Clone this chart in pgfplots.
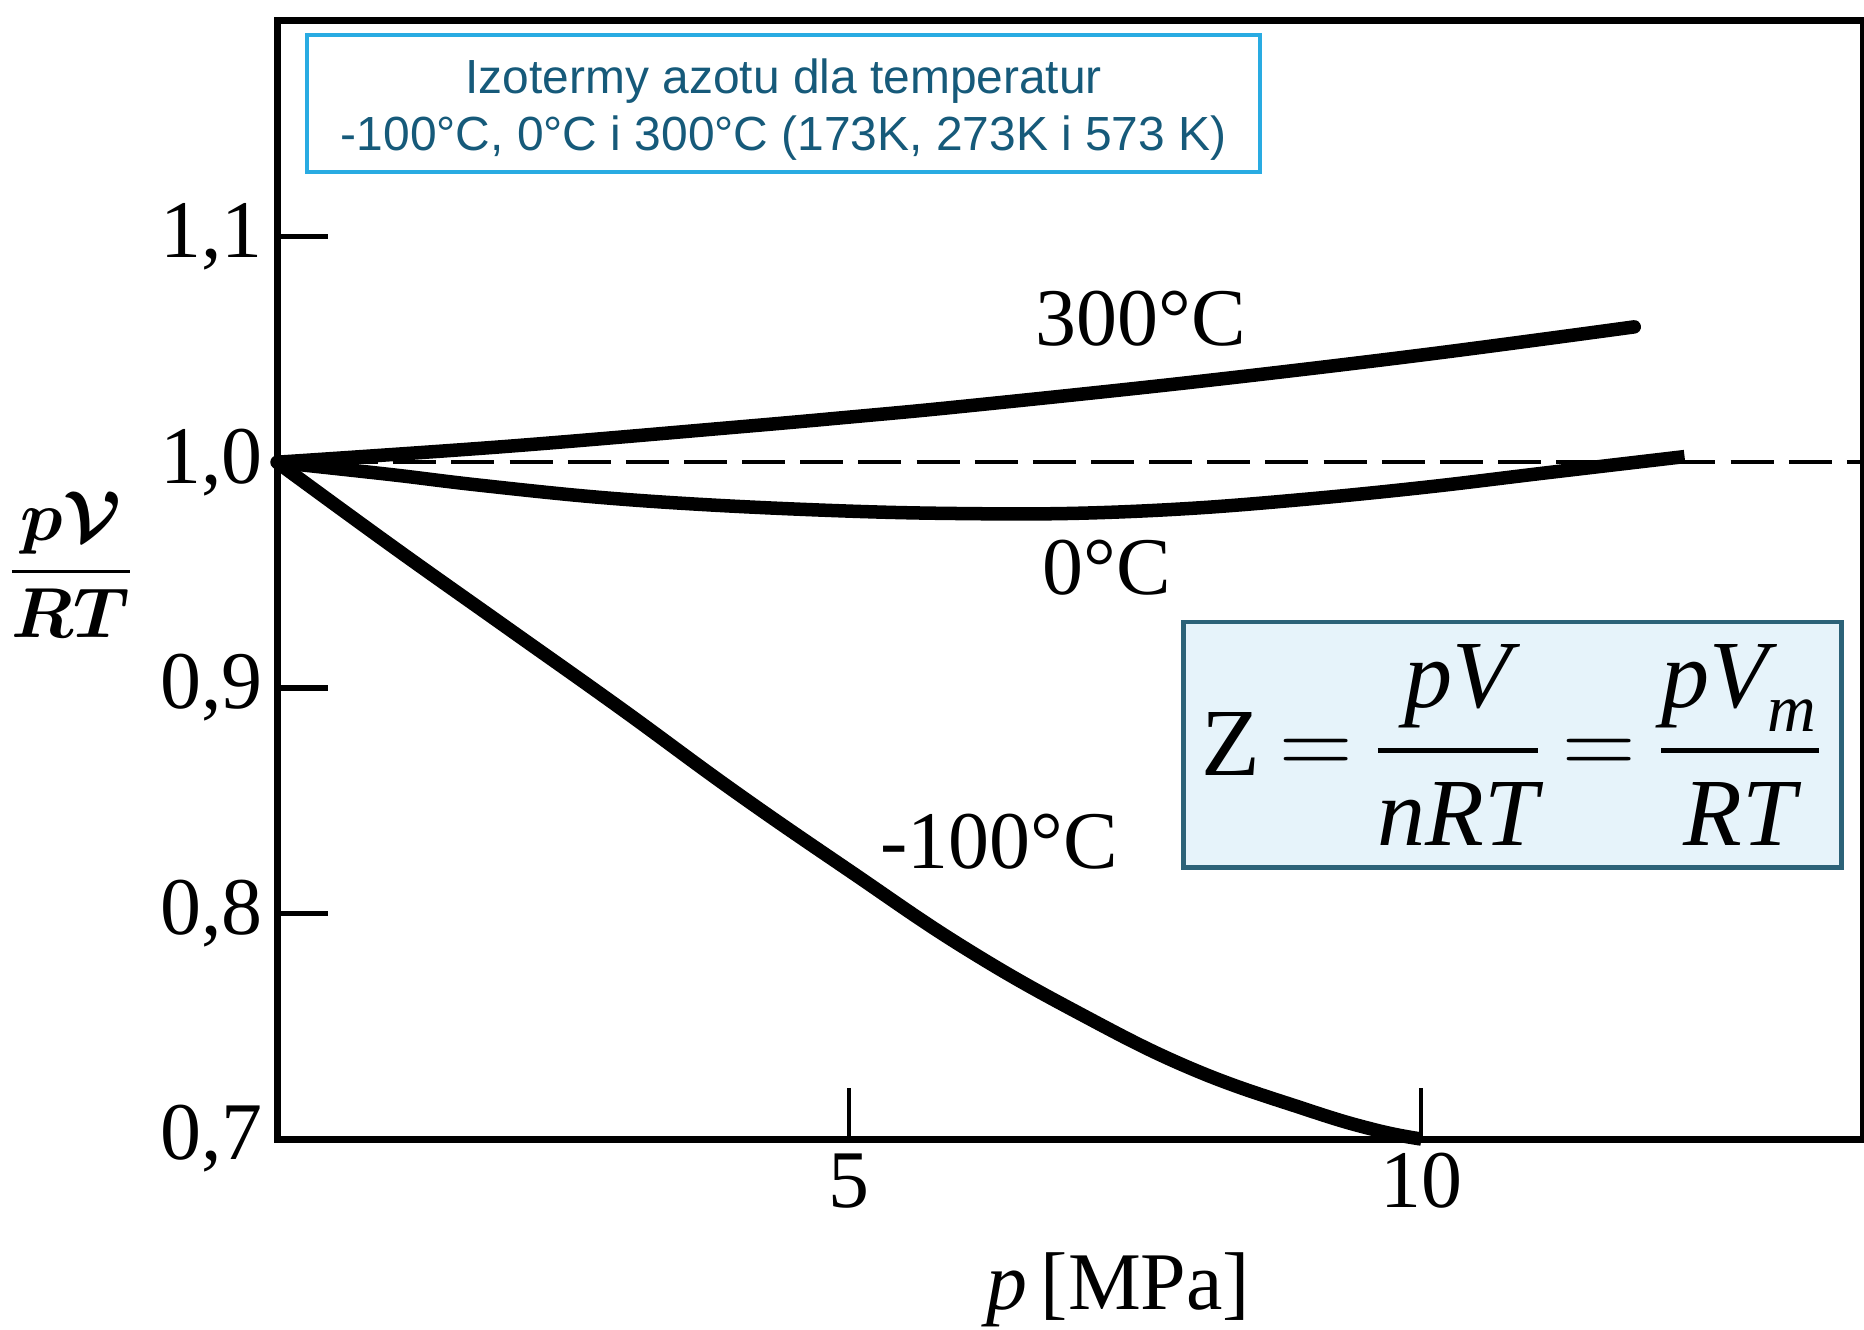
\documentclass[border=0pt]{standalone}
\usepackage{fontspec}
\usepackage{amsmath}
\usepackage{pgfplots}
\pgfplotsset{compat=1.18}
\setmainfont{Liberation Serif}
\newfontfamily\arial{Liberation Sans}
\definecolor{titleblue}{RGB}{41,171,226}
\definecolor{titletext}{RGB}{22,90,122}
\definecolor{boxfill}{RGB}{230,243,250}
\definecolor{boxedge}{RGB}{44,98,120}

\begin{document}
\begin{tikzpicture}
\useasboundingbox (-2.378,-1.631) rectangle (13.622,9.777);
\begin{axis}[
  at={(0,0)}, anchor=south west, scale only axis,
  width=13.614cm, height=9.605cm,
  xmin=0, xmax=13.86, ymin=0.7, ymax=1.196,
  clip=false,
  axis line style={line width=1.7pt},
  xtick={5,10}, ytick={0.7,0.8,0.9,1.0,1.1},
  xtick pos=bottom, ytick pos=left,
  tick align=inside,
  major tick length=0.44cm,
  xtick style={line width=1pt, black},
  ytick style={line width=1.4pt, black},
  /pgf/number format/assume math mode=true,
  yticklabel style={/pgf/number format/use comma, /pgf/number format/fixed, /pgf/number format/fixed zerofill, /pgf/number format/precision=1},
  tick label style={font=\fontsize{20}{20}\selectfont},
]
\addplot[black, line width=1.1pt, dash pattern=on 10.5pt off 3.7pt] coordinates {(0,1.0) (13.86,1.0)};
\addplot[black, line width=3.3pt, smooth, tension=0.6, line cap=round] coordinates {
(0,1.000) (2,1.007) (4,1.0155) (5,1.020) (6,1.0248) (8,1.0355) (10,1.0475) (11.86,1.060)};
\addplot[black, line width=3.3pt, smooth, tension=0.6] coordinates {
(0,1.000) (1,0.9945) (1.74,0.990) (2.78,0.9846) (3.81,0.981) (4.96,0.9784) (5.89,0.9773) (6.93,0.9773) (7.97,0.9795) (9.01,0.9837) (10.05,0.989) (11.09,0.9953) (12.3,1.0025)};
\addplot[black, line width=3.3pt, smooth, tension=0.7] coordinates {
(0,1.000) (1,0.963) (2,0.927) (3,0.891) (4,0.854) (5,0.819) (6,0.785) (7,0.756) (8,0.731) (9,0.713) (9.6,0.704) (10,0.700)};
\coordinate (l300) at (axis cs:7.55,1.0636);
\coordinate (l0) at (axis cs:7.25,0.9532);
\coordinate (lm100) at (axis cs:6.31,0.8317);
\coordinate (ltitle) at (axis cs:4.428,1.159);
\coordinate (lformula) at (axis cs:10.795,0.8747);
\coordinate (lylab) at (axis cs:-1.80,0.9545);
\coordinate (lxlab) at (axis cs:7.35,0.633);
\end{axis}
\node[font=\fontsize{20}{20}\selectfont] at (l300) {300°C};
\node[font=\fontsize{20}{20}\selectfont] at (l0) {0°C};
\node[font=\fontsize{20}{20}\selectfont] at (lm100) {-100°C};
\node[draw=titleblue, line width=1pt, minimum width=8.18cm, minimum height=1.17cm, inner sep=0pt] at (ltitle) {};
\node[align=center, text=titletext, font=\arial\fontsize{11.7}{14}\selectfont, inner sep=0pt, yshift=-0.05cm] at (ltitle) {Izotermy azotu dla temperatur\\-100°C, 0°C i 300°C (173K, 273K i 573 K)};
\node[draw=boxedge, fill=boxfill, line width=1.2pt, minimum width=5.65cm, minimum height=2.11cm, inner sep=0pt, font=\fontsize{23.5}{28}\selectfont] at (lformula) {\thickmuskip=3.5mu$\mathrm{Z} = \dfrac{\textit{pV}}{\textit{nRT}} = \dfrac{\textit{pV}_{\textit{m}}}{\textit{RT}}$};
\node[font=\fontsize{18}{22}\selectfont] at (lylab) {$\displaystyle\frac{\boldsymbol{p\mathcal{V}}}{\boldsymbol{RT}}$};
\node[font=\fontsize{20}{24}\selectfont] at (lxlab) {\textit{p}\,[MPa]};
\end{tikzpicture}
\end{document}
